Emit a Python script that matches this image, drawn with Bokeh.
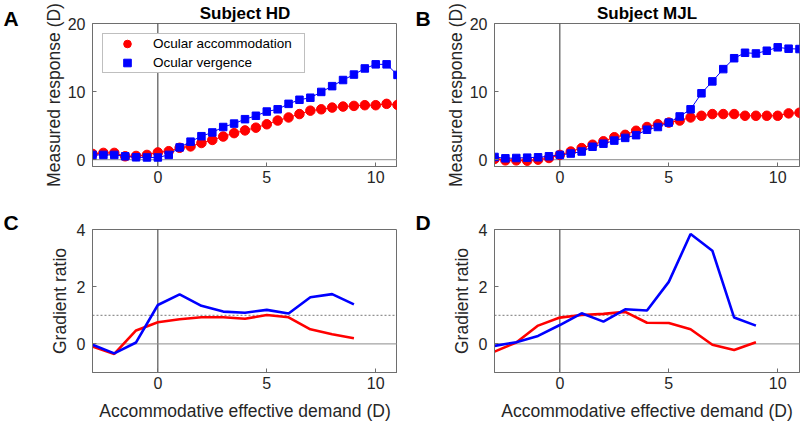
from bokeh.plotting import figure
from bokeh.models import Span, Label, FixedTicker, Legend, LegendItem, Range1d
from bokeh.layouts import column, row
from bokeh.embed import file_html
from bokeh.resources import INLINE

# ---------------- data ----------------
demand_half = [-3, -2.5, -2, -1.5, -1, -0.5, 0, 0.5, 1, 1.5, 2, 2.5, 3, 3.5, 4, 4.5,
               5, 5.5, 6, 6.5, 7, 7.5, 8, 8.5, 9, 9.5, 10, 10.5, 11]
hd_accommodation = [0.85, 1.0, 1.0, 0.5, 0.55, 0.7, 1.07, 1.25, 1.75, 1.95, 2.45, 2.9,
                    3.4, 3.9, 4.3, 4.7, 5.2, 5.75, 6.2, 6.7, 7.2, 7.4, 7.65, 7.8, 7.9,
                    8.0, 8.0, 8.2, 8.05]
hd_vergence = [0.7, 0.7, 0.7, 0.5, 0.35, 0.33, 0.33, 0.7, 1.8, 2.65, 3.45, 4.0, 4.8,
               5.3, 5.95, 6.45, 7.07, 7.4, 8.2, 8.8, 9.1, 9.95, 10.8, 11.7, 12.5, 13.4,
               14.0, 14.0, 12.45]
mjl_accommodation = [0.1, -0.1, -0.1, -0.15, 0.0, 0.25, 0.7, 1.2, 1.7, 2.2, 2.7, 3.3,
                     3.65, 4.25, 4.8, 5.2, 5.45, 5.75, 6.2, 6.45, 6.7, 6.7, 6.7, 6.45,
                     6.45, 6.45, 6.45, 6.8, 6.9]
mjl_vergence = [0.4, 0.2, 0.25, 0.3, 0.35, 0.5, 0.7, 0.9, 1.2, 1.9, 2.35, 2.8, 3.2,
                3.6, 4.4, 4.8, 5.45, 6.35, 7.4, 9.75, 11.5, 13.3, 14.9, 15.7, 15.6,
                16.0, 16.5, 16.3, 16.25]

demand_int = [-3, -2, -1, 0, 1, 2, 3, 4, 5, 6, 7, 8, 9]
hd_ratio_acc = [-0.09, -0.35, 0.47, 0.76, 0.86, 0.93, 0.93, 0.88, 1.01, 0.93, 0.51, 0.34, 0.2]
hd_ratio_verg = [-0.03, -0.33, 0.05, 1.36, 1.73, 1.33, 1.13, 1.09, 1.19, 1.06, 1.63, 1.74, 1.38]
mjl_ratio_acc = [-0.27, 0.05, 0.64, 0.92, 1.01, 1.05, 1.12, 0.74, 0.73, 0.51, -0.03, -0.21, 0.06]
mjl_ratio_verg = [-0.07, 0.06, 0.28, 0.66, 1.07, 0.78, 1.21, 1.17, 2.17, 3.84, 3.26, 0.92, 0.64]

x_ticks = [0, 5, 10]
resp_ticks = [0, 10, 20]
ratio_ticks = [0, 2, 4]

FONT = "Liberation Sans"
TXT = "#262626"
FRAME = "#6e6e6e"
RED = "#ff0000"
BLUE = "#0000ff"


def base_panel(width, height, left, right, top, bottom, yr, yticks, ylabel, xlabel, title,
               label_standoff):
    p = figure(width=width, height=height, output_backend="svg", toolbar_location=None,
               x_range=Range1d(-3, 11), y_range=Range1d(*yr),
               min_border_left=left, min_border_right=right,
               min_border_top=top, min_border_bottom=bottom)
    p.xgrid.visible = False
    p.ygrid.visible = False
    p.outline_line_color = FRAME
    p.outline_line_width = 1
    p.background_fill_color = "white"
    p.border_fill_color = "white"
    for ax in (p.xaxis[0], p.yaxis[0]):
        ax.axis_line_color = FRAME
        ax.major_tick_line_color = FRAME
        ax.major_tick_in = 4
        ax.major_tick_out = 0
        ax.minor_tick_line_color = None
        ax.major_label_text_font = FONT
        ax.major_label_text_font_size = "16px"
        ax.major_label_text_color = TXT
        ax.axis_label_text_font = FONT
        ax.axis_label_text_font_size = "17.5px"
        ax.axis_label_text_font_style = "normal"
        ax.axis_label_text_color = TXT
    p.xaxis[0].ticker = FixedTicker(ticks=x_ticks)
    p.yaxis[0].ticker = FixedTicker(ticks=yticks)
    p.yaxis[0].axis_label = ylabel
    p.yaxis[0].major_label_standoff = 7
    p.yaxis[0].axis_label_standoff = label_standoff
    p.xaxis[0].major_label_standoff = 4
    p.xaxis[0].axis_label_standoff = 9
    if xlabel:
        p.xaxis[0].axis_label = xlabel
    if title:
        p.title.text = title
        p.title.align = "center"
        p.title.text_font = FONT
        p.title.text_font_size = "17px"
        p.title.text_font_style = "bold"
        p.title.text_color = "black"
        p.title.standoff = 2
    p.add_layout(Span(location=0, dimension="height", line_color="#333333",
                      line_width=1, level="underlay"))
    p.add_layout(Span(location=0, dimension="width", line_color="#8c8c8c",
                      line_width=1, level="underlay"))
    return p


def letter_fig(width, height, text, x, y):
    f = figure(width=width, height=height, output_backend="svg", toolbar_location=None,
               title=None,
               x_range=Range1d(0, width), y_range=Range1d(height, 0),
               x_axis_type=None, y_axis_type=None, min_border=0)
    f.outline_line_color = None
    f.background_fill_color = "white"
    f.border_fill_color = "white"
    f.add_layout(Label(x=x, y=y, text=text, text_font=FONT, text_font_size="21px",
                       text_font_style="bold", text_color="black",
                       text_align="left", text_baseline="alphabetic"))
    return f


def response_panel(width, left, right, title, acc, verg, with_legend):
    p = base_panel(width, 211, left, right, 23, 45, (-1, 20), resp_ticks,
                   "Measured response (D)", None, title, 1)
    p.line(demand_half, acc, line_color=RED, line_width=1)
    r_acc = p.scatter(demand_half, acc, marker="circle", size=9.5,
                      fill_color=RED, line_color=RED)
    p.line(demand_half, verg, line_color=BLUE, line_width=1)
    r_verg = p.scatter(demand_half, verg, marker="square", size=7.5,
                       fill_color=BLUE, line_color=BLUE)
    if with_legend:
        lg = Legend(items=[LegendItem(label="Ocular accommodation", renderers=[r_acc]),
                           LegendItem(label="Ocular vergence", renderers=[r_verg])],
                    location="top_left", margin=10, padding=0, spacing=0,
                    glyph_width=48, glyph_height=19, label_height=16,
                    label_standoff=2, label_width=151,
                    label_text_font=FONT, label_text_font_size="13.5px",
                    label_text_color="black",
                    border_line_color="#7f7f7f", border_line_width=1,
                    background_fill_color="white", background_fill_alpha=1)
        p.add_layout(lg)
    return p


def ratio_panel(width, left, right, acc, verg):
    p = base_panel(width, 212, left, right, 18, 51, (-1, 4), ratio_ticks,
                   "Gradient ratio", "Accommodative effective demand (D)", None, 4)
    p.add_layout(Span(location=1, dimension="width", line_color="#555555",
                      line_width=0.8, line_dash="2 2", level="underlay"))
    p.line(demand_int, acc, line_color=RED, line_width=2.6)
    p.line(demand_int, verg, line_color=BLUE, line_width=2.6)
    return p


pA = response_panel(367, 62, 0, "Subject HD", hd_accommodation, hd_vergence, True)
pB = response_panel(360, 54, 1, "Subject MJL", mjl_accommodation, mjl_vergence, False)
pC = ratio_panel(367, 62, 0, hd_ratio_acc, hd_ratio_verg)
pD = ratio_panel(360, 54, 1, mjl_ratio_acc, mjl_ratio_verg)

lA = letter_fig(30, 211, "A", 3, 18)
lB = letter_fig(43, 211, "B", 18, 18)
lC = letter_fig(30, 212, "C", 3, 11)
lD = letter_fig(43, 212, "D", 18, 11)

layout = row(column(lA, lC), column(pA, pC), column(lB, lD), column(pB, pD))

open("out.html", "w").write(file_html(layout, INLINE))
